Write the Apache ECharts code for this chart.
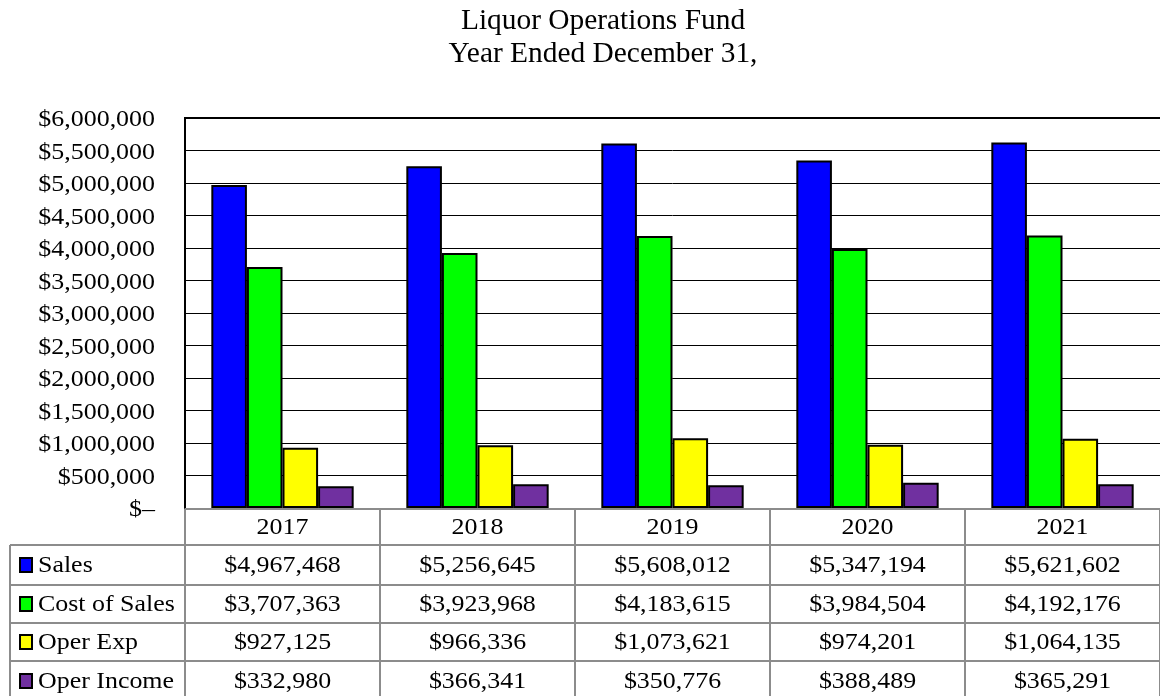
<!DOCTYPE html>
<html><head><meta charset="utf-8">
<script src="https://cdn.jsdelivr.net/npm/echarts@6/dist/echarts.min.js"></script>
<style>html,body{margin:0;padding:0;background:#fff}#c{width:1160px;height:696px}</style>
</head><body><div id="c"></div>
<script>
const titleLines = ['Liquor Operations Fund', 'Year Ended December 31,'];
const years = ['2017','2018','2019','2020','2021'];
const seriesNames = ['Sales','Cost of Sales','Oper Exp','Oper Income'];
const sales = [4967468, 5256645, 5608012, 5347194, 5621602];
const costOfSales = [3707363, 3923968, 4183615, 3984504, 4192176];
const operExp = [927125, 966336, 1073621, 974201, 1064135];
const operIncome = [332980, 366341, 350776, 388489, 365291];
const yTicks = [0, 500000, 1000000, 1500000, 2000000, 2500000, 3000000, 3500000, 4000000, 4500000, 5000000, 5500000, 6000000];
const colors = ['#0000FF','#00FF00','#FFFF00','#7030A0'];

const allData = [sales, costOfSales, operExp, operIncome];
const FONT = '"Liberation Serif", "Times New Roman", serif';
const FS = 24, SX = 1.08;
const fmtMoney = v => '$' + v.toLocaleString('en-US');

const chart = echarts.init(document.getElementById('c'));
const gridTop = 118, gridBottom = 188, gridLeft = 185;
chart.setOption({
  animation: false,
  grid: {left: gridLeft, right: -5, top: gridTop, bottom: gridBottom, show: false},
  xAxis: {
    type: 'category', data: years,
    axisLine: {show: false}, axisTick: {show: false}, axisLabel: {show: false}
  },
  yAxis: {
    type: 'value', min: yTicks[0], max: yTicks[yTicks.length - 1], interval: yTicks[1] - yTicks[0],
    axisLine: {show: true, lineStyle: {color: '#000', width: 2}},
    axisTick: {show: false},
    splitLine: {show: true, lineStyle: {color: '#000', width: 1}},
    axisLabel: {show: false}
  },
  series: allData.map((d, i) => ({
    name: seriesNames[i], type: 'bar', data: d,
    barGap: '0%', barCategoryGap: '27%',
    itemStyle: {color: colors[i], borderColor: '#000', borderWidth: 2}
  }))
});

function txt(text, x, y, align, sx, fs) {
  return {type: 'text', x: x, y: y, scaleX: sx || SX, z: 11,
    style: {text: text, fontFamily: FONT, fontSize: fs || FS, fill: '#000', textAlign: align, textVerticalAlign: 'middle'}};
}

function build() {
  const g = [];
  g.push(txt(titleLines[0], 603, 21, 'center', 0.98, 30));
  g.push(txt(titleLines[1], 603, 54, 'center', 0.98, 30));
  yTicks.forEach(t => {
    const py = chart.convertToPixel({yAxisIndex: 0}, t);
    g.push(txt(t === 0 ? '$\u2013' : fmtMoney(t), 155, py + 2, 'right'));
  });
  const xs = years.map(y => chart.convertToPixel({xAxisIndex: 0}, y));
  const half = (xs[1] - xs[0]) / 2;
  const bounds = [xs[0] - half].concat(xs.map(x => x + half));
  const yTop = chart.convertToPixel({yAxisIndex: 0}, yTicks[0]);
  const yMax = chart.convertToPixel({yAxisIndex: 0}, yTicks[yTicks.length - 1]);
  const rowTops = [yTop + 1, yTop + 37, yTop + 77, yTop + 115, yTop + 153, yTop + 193];
  const tableLeft = 10;
  const gray = '#8c8c8c';
  g.push({type: 'line', shape: {x1: bounds[0] - 1, y1: yMax, x2: 1165, y2: yMax}, style: {stroke: '#000', lineWidth: 2}, z: 10});
  g.push({type: 'line', shape: {x1: bounds[0], y1: rowTops[0], x2: 1165, y2: rowTops[0]}, style: {stroke: gray, lineWidth: 2}, z: 10});
  for (let r = 1; r < rowTops.length; r++) {
    g.push({type: 'line', shape: {x1: tableLeft, y1: rowTops[r], x2: 1165, y2: rowTops[r]}, style: {stroke: gray, lineWidth: 2}, z: 10});
  }
  g.push({type: 'line', shape: {x1: tableLeft, y1: rowTops[1], x2: tableLeft, y2: 700}, style: {stroke: gray, lineWidth: 2}, z: 10});
  bounds.forEach(b => {
    g.push({type: 'line', shape: {x1: b, y1: rowTops[0], x2: b, y2: 700}, style: {stroke: gray, lineWidth: 2}, z: 10});
  });
  years.forEach((y, i) => g.push(txt(y, xs[i], (rowTops[0] + rowTops[1]) / 2 + 1, 'center')));
  seriesNames.forEach((name, r) => {
    const cy = (rowTops[r + 1] + rowTops[r + 2]) / 2;
    g.push({type: 'rect', shape: {x: 20, y: cy - 7, width: 12, height: 14},
      style: {fill: colors[r], stroke: '#000', lineWidth: 2}, z: 11});
    g.push(txt(name, 38, cy + 1, 'left'));
    allData[r].forEach((v, i) => g.push(txt(fmtMoney(v), xs[i], cy + 1, 'center')));
  });
  chart.setOption({graphic: g});
}
build();
</script></body></html>
